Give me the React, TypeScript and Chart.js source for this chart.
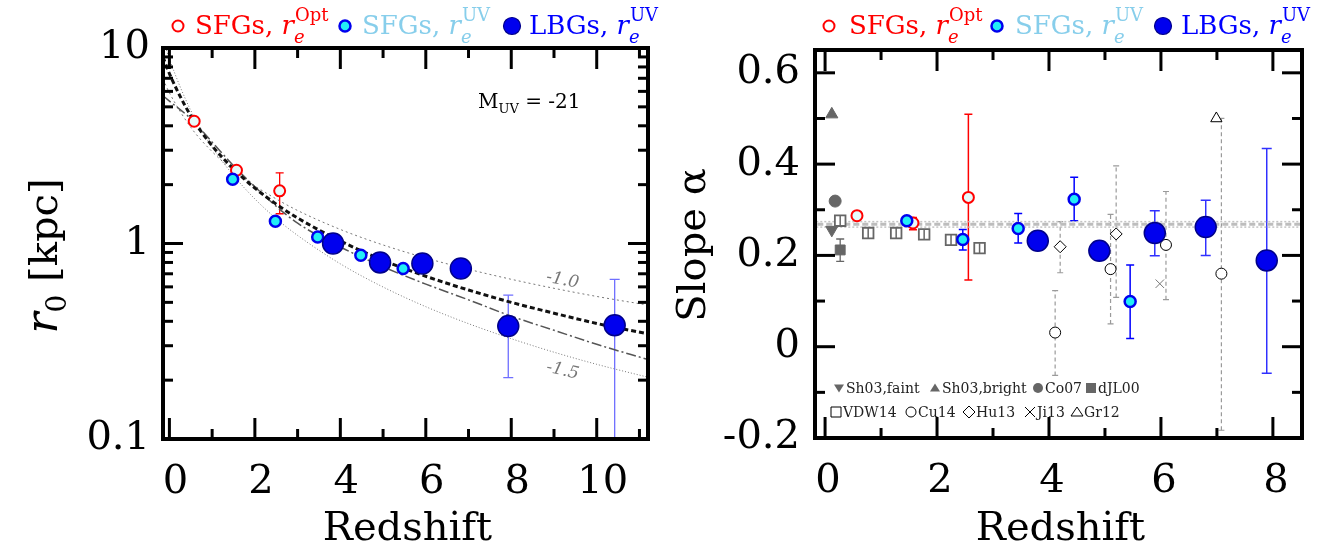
import React, { useEffect, useRef } from 'react';
import { Chart, registerables } from 'chart.js';
Chart.register(...registerables);

const SERIF = '"DejaVu Serif", serif';

// ---------------- Left panel data ----------------
const leftXTicks = [0, 2, 4, 6, 8, 10];
const leftXMinor = [1, 3, 5, 7, 9, 11];
const leftYTicks = [0.1, 1, 10];
const leftYMinor = [0.2, 0.3, 0.4, 0.5, 0.6, 0.7, 0.8, 0.9, 2, 3, 4, 5, 6, 7, 8, 9];

const optZ = [0.58, 1.57, 2.58];
const optR = [4.22, 2.37, 1.86];
const optLo = [NaN, NaN, 1.42];
const optHi = [NaN, NaN, 2.3];

const uvZ = [1.48, 2.48, 3.47, 4.48, 5.47];
const uvR = [2.13, 1.3, 1.08, 0.87, 0.745];

const lbgZ = [3.83, 4.93, 5.92, 6.82, 7.93, 10.42];
const lbgR = [1.0, 0.8, 0.79, 0.745, 0.378, 0.382];
const lbgLo = [NaN, NaN, NaN, NaN, 0.206, 0.05];
const lbgHi = [NaN, NaN, NaN, NaN, 0.544, 0.656];

const curveZ = [-0.15, 0, 0.5, 1, 1.5, 2, 2.5, 3, 4, 5, 6, 7, 8, 9, 10, 11.2];
const fitThick = [9.0, 7.4, 4.5, 3.16, 2.41, 1.92, 1.59, 1.35, 1.03, 0.82, 0.68, 0.578, 0.5, 0.44, 0.39, 0.345];
const fitDashDot = [5.7, 5.35, 4.35, 3.3, 2.5, 1.95, 1.55, 1.27, 0.96, 0.76, 0.62, 0.515, 0.425, 0.36, 0.305, 0.255];
const slope10 = [6.94, 5.9, 3.93, 2.95, 2.36, 1.97, 1.69, 1.475, 1.18, 0.983, 0.843, 0.738, 0.656, 0.59, 0.536, 0.484];
const slope15 = [11.2, 8.8, 4.79, 3.11, 2.23, 1.69, 1.34, 1.1, 0.787, 0.599, 0.475, 0.389, 0.326, 0.278, 0.241, 0.207];

// ---------------- Right panel data ----------------
const rightXTicks = [0, 2, 4, 6, 8];
const rightXMinor = [1, 3, 5, 7];
const rightYTicks = [-0.2, 0, 0.2, 0.4, 0.6];
const rightYMinor = [-0.1, 0.1, 0.3, 0.5];

const bandZ = [-0.3, 8.7];
const bandMid = [0.268, 0.268];
const bandUp = [0.274, 0.274];
const bandLow = [0.262, 0.262];

const sh03FaintZ = [0.12];
const sh03FaintA = [0.256];
const sh03BrightZ = [0.12];
const sh03BrightA = [0.509];
const co07Z = [0.18];
const co07A = [0.319];
const djl00Z = [0.27];
const djl00A = [0.212];
const djl00Lo = [0.187];
const djl00Hi = [0.236];
const vdwZ = [0.27, 0.77, 1.27, 1.77, 2.25, 2.76];
const vdwA = [0.276, 0.249, 0.249, 0.246, 0.234, 0.216];
const vdwLo = [0.265, 0.238, 0.238, 0.235, 0.223, 0.205];
const vdwHi = [0.287, 0.26, 0.26, 0.257, 0.245, 0.227];
const cu14Z = [4.11, 5.1, 6.09, 7.08];
const cu14A = [0.031, 0.17, 0.223, 0.16];
const cu14Lo = [-0.063, 0.05, 0.103, -0.183];
const cu14Hi = [0.123, 0.29, 0.34, 0.5];
const hu13Z = [4.2, 5.2];
const hu13A = [0.219, 0.247];
const hu13Lo = [0.162, 0.108];
const hu13Hi = [0.274, 0.396];
const ji13Z = [5.98];
const ji13A = [0.138];
const gr12Z = [6.99];
const gr12A = [0.5];

const aOptZ = [0.57, 1.57, 2.56];
const aOptA = [0.287, 0.271, 0.327];
const aOptLo = [NaN, 0.256, 0.146];
const aOptHi = [NaN, 0.283, 0.509];
const aUvZ = [1.46, 2.46, 3.45, 4.45, 5.45];
const aUvA = [0.276, 0.235, 0.259, 0.323, 0.099];
const aUvLo = [NaN, 0.212, 0.227, 0.276, 0.018];
const aUvHi = [NaN, 0.257, 0.292, 0.371, 0.179];
const aLbgZ = [3.8, 4.9, 5.89, 6.8, 7.89];
const aLbgA = [0.232, 0.21, 0.249, 0.262, 0.189];
const aLbgLo = [NaN, NaN, 0.199, 0.2, -0.058];
const aLbgHi = [NaN, NaN, 0.298, 0.321, 0.434];

// ---------------- helpers ----------------
const zip = (xs: number[], ys: number[]) => xs.map((x, i) => ({ x, y: ys[i] }));

const RED = '#ff0000';
const CYAN_FILL = '#22eef6';
const BLUE = '#0000ee';
const BLUE_EDGE = '#00008a';
const LIGHTCYAN = '#e6fbfb';
const GRAY = '#666666';

function errorBars(chart: any, onTop: boolean) {
  const { ctx, chartArea: a } = chart;
  const xs = chart.scales.x;
  const ys = chart.scales.y;
  ctx.save();
  ctx.beginPath();
  ctx.rect(a.left, a.top, a.right - a.left, a.bottom - a.top);
  ctx.clip();
  chart.data.datasets.forEach((ds: any) => {
    const e = ds.err;
    if (!e || !!e.top !== onTop) return;
    ds.data.forEach((p: any, i: number) => {
      const lo = e.lo[i];
      const hi = e.hi[i];
      if (!isFinite(lo) || !isFinite(hi)) return;
      const px = xs.getPixelForValue(p.x);
      const y1 = ys.getPixelForValue(lo);
      const y2 = ys.getPixelForValue(hi);
      ctx.strokeStyle = e.color;
      ctx.lineWidth = e.width;
      ctx.setLineDash(e.dash || []);
      ctx.beginPath();
      ctx.moveTo(px, y1);
      ctx.lineTo(px, y2);
      ctx.stroke();
      ctx.setLineDash([]);
      if (e.cap > 0) {
        ctx.beginPath();
        ctx.moveTo(px - e.cap, y1);
        ctx.lineTo(px + e.cap, y1);
        ctx.moveTo(px - e.cap, y2);
        ctx.lineTo(px + e.cap, y2);
        ctx.stroke();
      }
    });
  });
  ctx.restore();
}

function drawFrame(chart: any, cfg: any) {
  const { ctx, chartArea: a } = chart;
  const xs = chart.scales.x;
  const ys = chart.scales.y;
  ctx.save();
  ctx.strokeStyle = '#000';
  ctx.lineCap = 'butt';
  const seg = (x1: number, y1: number, x2: number, y2: number) => {
    ctx.beginPath();
    ctx.moveTo(x1, y1);
    ctx.lineTo(x2, y2);
    ctx.stroke();
  };
  ctx.lineWidth = 3;
  const majX = 21, minX = 10, majY = 20, minY = 10;
  cfg.xMajor.forEach((v: number) => {
    const p = xs.getPixelForValue(v);
    seg(p, a.bottom, p, a.bottom - majX);
    seg(p, a.top, p, a.top + majX);
  });
  cfg.xMinor.forEach((v: number) => {
    const p = xs.getPixelForValue(v);
    if (p < a.left || p > a.right) return;
    seg(p, a.bottom, p, a.bottom - minX);
    seg(p, a.top, p, a.top + minX);
  });
  cfg.yMajor.forEach((v: number) => {
    const p = ys.getPixelForValue(v);
    seg(a.left, p, a.left + majY, p);
    seg(a.right, p, a.right - majY, p);
  });
  cfg.yMinor.forEach((v: number) => {
    const p = ys.getPixelForValue(v);
    seg(a.left, p, a.left + minY, p);
    seg(a.right, p, a.right - minY, p);
  });
  ctx.lineWidth = 4;
  ctx.strokeRect(a.left, a.top, a.right - a.left, a.bottom - a.top);
  ctx.restore();
}

function font(size: number, italic = false) {
  return `${italic ? 'italic ' : ''}${size}px ${SERIF}`;
}

function legendEntry(ctx: any, cx: number, cy: number, tx: number, ty: number, color: string, sup: string, marker: string) {
  ctx.save();
  ctx.beginPath();
  if (marker === 'open') {
    ctx.arc(cx, cy, 5.5, 0, Math.PI * 2);
    ctx.fillStyle = '#ffffff';
    ctx.fill();
    ctx.lineWidth = 2;
    ctx.strokeStyle = RED;
    ctx.stroke();
  } else if (marker === 'cyan') {
    ctx.arc(cx, cy, 5.5, 0, Math.PI * 2);
    ctx.fillStyle = CYAN_FILL;
    ctx.fill();
    ctx.lineWidth = 2.5;
    ctx.strokeStyle = BLUE;
    ctx.stroke();
  } else {
    ctx.arc(cx, cy, 8.5, 0, Math.PI * 2);
    ctx.fillStyle = BLUE;
    ctx.fill();
    ctx.lineWidth = 1.2;
    ctx.strokeStyle = BLUE_EDGE;
    ctx.stroke();
  }
  ctx.restore();
  ctx.save();
  ctx.fillStyle = color;
  ctx.textBaseline = 'alphabetic';
  ctx.textAlign = 'left';
  let x = tx;
  const main = marker === 'blue' ? 'LBGs, ' : 'SFGs, ';
  ctx.font = font(26);
  ctx.fillText(main, x, ty);
  x += ctx.measureText(main).width;
  ctx.font = font(26, true);
  ctx.fillText('r', x, ty);
  x += ctx.measureText('r').width;
  ctx.font = font(18, true);
  ctx.fillText('e', x, ty + 9);
  ctx.font = font(18);
  ctx.fillText(sup, x + 1, ty - 13);
  ctx.restore();
}

function drawTopLegend(ctx: any, pos: number[]) {
  legendEntry(ctx, pos[0], 26, pos[1], 34, RED, 'Opt', 'open');
  legendEntry(ctx, pos[2], 26, pos[3], 34, '#87ceeb', 'UV', 'cyan');
  legendEntry(ctx, pos[4], 26, pos[5], 34, '#0000ff', 'UV', 'blue');
}

function drawRotated(ctx: any, bx: number, cy: number, segs: any[]) {
  ctx.save();
  let w = 0;
  segs.forEach((s) => {
    ctx.font = font(s.size, s.italic);
    w += ctx.measureText(s.t).width;
  });
  ctx.translate(bx, cy);
  ctx.rotate(-Math.PI / 2);
  let x = -w / 2;
  ctx.fillStyle = '#000';
  ctx.textBaseline = 'alphabetic';
  ctx.textAlign = 'left';
  segs.forEach((s) => {
    ctx.font = font(s.size, s.italic);
    ctx.fillText(s.t, x, s.dy || 0);
    x += ctx.measureText(s.t).width;
  });
  ctx.restore();
}

function xTitle(chart: any) {
  const { ctx, chartArea: a } = chart;
  ctx.save();
  ctx.font = font(40);
  ctx.fillStyle = '#000';
  ctx.textAlign = 'center';
  ctx.textBaseline = 'alphabetic';
  ctx.fillText('Redshift', (a.left + a.right) / 2 + 2, 540);
  ctx.restore();
}

const leftDecor = {
  id: 'leftDecor',
  beforeDatasetsDraw(chart: any) {
    errorBars(chart, false);
  },
  afterDatasetsDraw(chart: any) {
    errorBars(chart, true);
  },
  afterDraw(chart: any) {
    const { ctx } = chart;
    drawFrame(chart, { xMajor: leftXTicks, xMinor: leftXMinor, yMajor: leftYTicks, yMinor: leftYMinor });
    drawTopLegend(ctx, [178, 195, 345, 362, 512, 529]);
    xTitle(chart);
    drawRotated(ctx, 57, 256, [
      { t: 'r', size: 44, italic: true },
      { t: '0', size: 28, dy: 9 },
      { t: ' [kpc]', size: 40 },
    ]);
    ctx.save();
    ctx.fillStyle = '#000';
    ctx.textAlign = 'left';
    let x = 478;
    ctx.font = font(20);
    ctx.fillText('M', x, 108);
    x += ctx.measureText('M').width;
    ctx.font = font(13);
    ctx.fillText('UV', x, 113);
    x += ctx.measureText('UV').width;
    ctx.font = font(20);
    ctx.fillText(' = -21', x, 108);
    ctx.restore();
    const xs = chart.scales.x;
    const ys = chart.scales.y;
    ctx.save();
    ctx.fillStyle = '#777';
    ctx.font = font(17, true);
    ctx.textAlign = 'center';
    ctx.textBaseline = 'middle';
    ctx.save();
    ctx.translate(xs.getPixelForValue(9.2), ys.getPixelForValue(0.648));
    ctx.rotate((11 * Math.PI) / 180);
    ctx.fillText('-1.0', 0, 0);
    ctx.restore();
    ctx.save();
    ctx.translate(xs.getPixelForValue(9.2), ys.getPixelForValue(0.223));
    ctx.rotate((13 * Math.PI) / 180);
    ctx.fillText('-1.5', 0, 0);
    ctx.restore();
    ctx.restore();
  },
};

function smallSym(ctx: any, kind: string, x: number, y: number) {
  ctx.save();
  ctx.beginPath();
  const s = 5;
  if (kind === 'down') {
    ctx.moveTo(x - s, y - s * 0.7);
    ctx.lineTo(x + s, y - s * 0.7);
    ctx.lineTo(x, y + s * 0.9);
    ctx.closePath();
    ctx.fillStyle = GRAY;
    ctx.fill();
  } else if (kind === 'up') {
    ctx.moveTo(x - s, y + s * 0.7);
    ctx.lineTo(x + s, y + s * 0.7);
    ctx.lineTo(x, y - s * 0.9);
    ctx.closePath();
    ctx.fillStyle = GRAY;
    ctx.fill();
  } else if (kind === 'circle') {
    ctx.arc(x, y, s, 0, Math.PI * 2);
    ctx.fillStyle = GRAY;
    ctx.fill();
  } else if (kind === 'square') {
    ctx.rect(x - s, y - s, 2 * s, 2 * s);
    ctx.fillStyle = GRAY;
    ctx.fill();
  } else if (kind === 'osquare') {
    ctx.rect(x - s, y - s, 2 * s, 2 * s);
    ctx.lineWidth = 1;
    ctx.strokeStyle = '#000';
    ctx.stroke();
  } else if (kind === 'ocircle') {
    ctx.arc(x, y, s, 0, Math.PI * 2);
    ctx.lineWidth = 1;
    ctx.strokeStyle = '#000';
    ctx.stroke();
  } else if (kind === 'odiamond') {
    ctx.moveTo(x, y - s - 1);
    ctx.lineTo(x + s + 1, y);
    ctx.lineTo(x, y + s + 1);
    ctx.lineTo(x - s - 1, y);
    ctx.closePath();
    ctx.lineWidth = 1;
    ctx.strokeStyle = '#000';
    ctx.stroke();
  } else if (kind === 'cross') {
    ctx.moveTo(x - s, y - s);
    ctx.lineTo(x + s, y + s);
    ctx.moveTo(x + s, y - s);
    ctx.lineTo(x - s, y + s);
    ctx.lineWidth = 1;
    ctx.strokeStyle = '#000';
    ctx.stroke();
  } else if (kind === 'otri') {
    ctx.moveTo(x - s - 1, y + s * 0.8);
    ctx.lineTo(x + s + 1, y + s * 0.8);
    ctx.lineTo(x, y - s);
    ctx.closePath();
    ctx.lineWidth = 1;
    ctx.strokeStyle = '#000';
    ctx.stroke();
  }
  ctx.restore();
}

const rightDecor = {
  id: 'rightDecor',
  beforeDatasetsDraw(chart: any) {
    errorBars(chart, false);
  },
  afterDatasetsDraw(chart: any) {
    errorBars(chart, true);
  },
  afterDraw(chart: any) {
    const { ctx } = chart;
    drawFrame(chart, { xMajor: rightXTicks, xMinor: rightXMinor, yMajor: rightYTicks, yMinor: rightYMinor });
    drawTopLegend(ctx, [169, 189, 337, 355, 503, 521]);
    xTitle(chart);
    drawRotated(ctx, 45, 245, [{ t: 'Slope α', size: 40 }]);
    ctx.save();
    ctx.font = font(14);
    ctx.fillStyle = '#222';
    ctx.textAlign = 'left';
    ctx.textBaseline = 'alphabetic';
    const row1 = 393;
    const row2 = 417;
    const items1: [string, number, string][] = [
      ['down', 179, 'Sh03,faint'],
      ['up', 275, 'Sh03,bright'],
      ['circle', 378, 'Co07'],
      ['square', 431, 'dJL00'],
    ];
    const items2: [string, number, string][] = [
      ['osquare', 176, 'VDW14'],
      ['ocircle', 251, 'Cu14'],
      ['odiamond', 309, 'Hu13'],
      ['cross', 370, 'Ji13'],
      ['otri', 417, 'Gr12'],
    ];
    items1.forEach(([k, x, t]) => {
      smallSym(ctx, k, x, row1 - 5);
      ctx.fillText(t, x + 7, row1);
    });
    items2.forEach(([k, x, t]) => {
      smallSym(ctx, k, x, row2 - 5);
      ctx.fillText(t, x + 7, row2);
    });
    ctx.restore();
  },
};

function baseScales(o: any) {
  return {
    x: {
      type: 'linear',
      min: o.xmin,
      max: o.xmax,
      afterBuildTicks: (s: any) => {
        s.ticks = o.xticks.map((v: number) => ({ value: v }));
      },
      afterFit: (s: any) => {
        s.height = o.xh;
      },
      grid: { display: false, drawTicks: false },
      border: { display: false },
      ticks: {
        autoSkip: false,
        maxRotation: 0,
        padding: o.xpad,
        labelOffset: o.xoff,
        color: '#000',
        font: { family: SERIF, size: 40 },
        callback: (v: any) => String(v),
      },
    },
    y: {
      type: o.ylog ? 'logarithmic' : 'linear',
      min: o.ymin,
      max: o.ymax,
      afterBuildTicks: (s: any) => {
        s.ticks = o.yticks.map((v: number) => ({ value: v }));
      },
      afterFit: (s: any) => {
        s.width = o.yw;
      },
      grid: { display: false, drawTicks: false },
      border: { display: false },
      ticks: {
        autoSkip: false,
        padding: o.ypad,
        color: '#000',
        font: { family: SERIF, size: 40 },
        callback: (v: any) => String(Math.round(v * 100) / 100),
      },
    },
  };
}

function leftConfig(): any {
  const lineDs = (data: number[], color: string, width: number, dash: number[]) => ({
    data: zip(curveZ, data),
    showLine: true,
    pointRadius: 0,
    borderColor: color,
    borderWidth: width,
    borderDash: dash,
    cubicInterpolationMode: 'monotone',
    fill: false,
    clip: 0,
  });
  return {
    type: 'scatter',
    data: {
      datasets: [
        {
          data: zip(lbgZ, lbgR),
          pointRadius: 10.5,
          pointBackgroundColor: BLUE,
          pointBorderColor: BLUE_EDGE,
          pointBorderWidth: 1.5,
          err: { lo: lbgLo, hi: lbgHi, color: '#6f6fff', width: 1.3, cap: 5 },
        },
        {
          data: zip(uvZ, uvR),
          pointRadius: 5.5,
          pointBackgroundColor: CYAN_FILL,
          pointBorderColor: BLUE,
          pointBorderWidth: 2.5,
        },
        {
          data: zip(optZ, optR),
          pointRadius: 5.5,
          pointBackgroundColor: LIGHTCYAN,
          pointBorderColor: RED,
          pointBorderWidth: 2,
          err: { lo: optLo, hi: optHi, color: RED, width: 1.3, cap: 4 },
        },
        lineDs(fitThick, '#111111', 3, [5, 3]),
        lineDs(fitDashDot, '#555555', 1.5, [10, 3, 2, 3]),
        lineDs(slope10, '#777777', 1, [2, 3]),
        lineDs(slope15, '#777777', 1, [1, 2]),
      ],
    },
    options: {
      responsive: false,
      animation: false,
      events: [],
      layout: { padding: { top: 48, right: 11, left: 0, bottom: 0 } },
      plugins: { legend: { display: false }, tooltip: { enabled: false }, title: { display: false } },
      scales: baseScales({
        xmin: -0.15,
        xmax: 11.2,
        xticks: leftXTicks,
        xh: 112,
        xpad: 20,
        xoff: 6,
        ylog: true,
        ymin: 0.1,
        ymax: 10,
        yticks: leftYTicks,
        yw: 163,
        ypad: 13,
      }),
    },
    plugins: [leftDecor],
  };
}

function rightConfig(): any {
  const band = (data: number[], width: number, dash: number[], color: string) => ({
    data: zip(bandZ, data),
    showLine: true,
    pointRadius: 0,
    borderColor: color,
    borderWidth: width,
    borderDash: dash,
    fill: false,
    clip: 0,
  });
  const grayErr = (lo: number[], hi: number[]) => ({ lo, hi, color: '#9a9a9a', width: 1.2, cap: 3, dash: [4, 3] });
  return {
    type: 'scatter',
    data: {
      datasets: [
        {
          data: zip(aLbgZ, aLbgA),
          pointRadius: 10.5,
          pointBackgroundColor: BLUE,
          pointBorderColor: BLUE_EDGE,
          pointBorderWidth: 1.5,
          err: { lo: aLbgLo, hi: aLbgHi, color: '#3030ff', width: 1.5, cap: 5 },
        },
        {
          data: zip(aUvZ, aUvA),
          pointRadius: 5.5,
          pointBackgroundColor: CYAN_FILL,
          pointBorderColor: BLUE,
          pointBorderWidth: 2.5,
          err: { lo: aUvLo, hi: aUvHi, color: '#0000ff', width: 1.5, cap: 4 },
        },
        {
          data: zip(aOptZ, aOptA),
          pointRadius: 5.5,
          pointBackgroundColor: LIGHTCYAN,
          pointBorderColor: RED,
          pointBorderWidth: 2,
          err: { lo: aOptLo, hi: aOptHi, color: RED, width: 1.5, cap: 4 },
        },
        {
          data: zip(cu14Z, cu14A),
          pointRadius: 5.5,
          pointBackgroundColor: '#ffffff',
          pointBorderColor: '#000',
          pointBorderWidth: 1,
          err: grayErr(cu14Lo, cu14Hi),
        },
        {
          data: zip(hu13Z, hu13A),
          pointStyle: 'rectRot',
          pointRadius: 6,
          pointBackgroundColor: '#ffffff',
          pointBorderColor: '#000',
          pointBorderWidth: 1,
          err: grayErr(hu13Lo, hu13Hi),
        },
        {
          data: zip(ji13Z, ji13A),
          pointStyle: 'crossRot',
          pointRadius: 6,
          pointBorderColor: '#777',
          pointBorderWidth: 1,
        },
        {
          data: zip(gr12Z, gr12A),
          pointStyle: 'triangle',
          pointRadius: 6.5,
          pointBackgroundColor: '#ffffff',
          pointBorderColor: '#000',
          pointBorderWidth: 1,
        },
        {
          data: zip(vdwZ, vdwA),
          pointStyle: 'rect',
          pointRadius: 7.5,
          pointBackgroundColor: '#ffffff',
          pointBorderColor: GRAY,
          pointBorderWidth: 1.8,
          err: { lo: vdwLo, hi: vdwHi, color: GRAY, width: 1.5, cap: 0, top: true },
        },
        {
          data: zip(djl00Z, djl00A),
          pointStyle: 'rect',
          pointRadius: 7,
          pointBackgroundColor: GRAY,
          pointBorderColor: GRAY,
          pointBorderWidth: 1,
          err: { lo: djl00Lo, hi: djl00Hi, color: GRAY, width: 1.3, cap: 4 },
        },
        {
          data: zip(co07Z, co07A),
          pointRadius: 6,
          pointBackgroundColor: GRAY,
          pointBorderColor: GRAY,
          pointBorderWidth: 1,
        },
        {
          data: zip(sh03BrightZ, sh03BrightA),
          pointStyle: 'triangle',
          pointRadius: 7,
          pointBackgroundColor: GRAY,
          pointBorderColor: GRAY,
          pointBorderWidth: 1,
        },
        {
          data: zip(sh03FaintZ, sh03FaintA),
          pointStyle: 'triangle',
          rotation: 180,
          pointRotation: 180,
          pointRadius: 7,
          pointBackgroundColor: GRAY,
          pointBorderColor: GRAY,
          pointBorderWidth: 1,
        },
        band(bandMid, 3, [6, 3], '#bdbdbd'),
        band(bandUp, 1.5, [2, 2], '#c4c4c4'),
        band(bandLow, 1.5, [2, 2], '#c4c4c4'),
      ],
    },
    options: {
      responsive: false,
      animation: false,
      events: [],
      layout: { padding: { top: 50, right: 18, left: 0, bottom: 0 } },
      plugins: { legend: { display: false }, tooltip: { enabled: false }, title: { display: false } },
      scales: baseScales({
        xmin: -0.18,
        xmax: 8.52,
        xticks: rightXTicks,
        xh: 113,
        xpad: 20,
        xoff: 3,
        ylog: false,
        ymin: -0.2,
        ymax: 0.65,
        yticks: rightYTicks,
        yw: 155,
        ypad: 15,
      }),
    },
    plugins: [rightDecor],
  };
}

function Panel({ make, left }: { make: () => any; left: number }) {
  const ref = useRef<HTMLCanvasElement | null>(null);
  useEffect(() => {
    if (!ref.current) return;
    const chart = new Chart(ref.current, make());
    return () => chart.destroy();
  }, [make]);
  return (
    <div style={{ position: 'absolute', left, top: 0, width: 660, height: 551 }}>
      <canvas ref={ref} width={660} height={551} style={{ display: 'block', width: 660, height: 551 }} />
    </div>
  );
}

export default function App() {
  return (
    <div style={{ position: 'absolute', left: 0, top: 0, width: 1320, height: 551, background: '#fff', overflow: 'hidden' }}>
      <Panel make={leftConfig} left={0} />
      <Panel make={rightConfig} left={660} />
    </div>
  );
}
